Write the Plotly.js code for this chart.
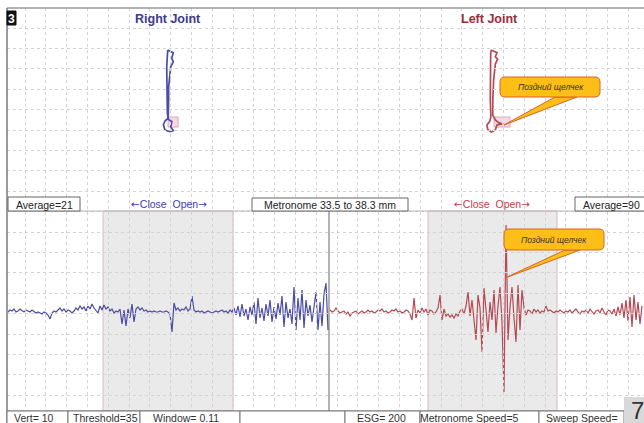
<!DOCTYPE html>
<html>
<head>
<meta charset="utf-8">
<script src="https://cdn.plot.ly/plotly-3.0.1.min.js"></script>
<style>html,body{margin:0;padding:0;background:#fff}#chart{width:644px;height:423px}</style>
</head>
<body>
<div id="chart"></div>
<script>
// ---------- DATA ----------
// Jaw tracking (lateral mm, vertical mm) for each joint
const rightLat  = [-0.14,2.5,1.8,2.5,1.3,1.0,0.3,0.3,0.1,0.1,-1.4,-2.2,-1.4,1.0,2.5,1.3,1.8,0.1,-0.3,-0.5,-0.5,-0.6,-0.5,-0.14];
const rightVert = [0,-1.3,-4.0,-5.6,-8.0,-10.3,-17.5,-23.8,-30.1,-32.5,-33.7,-35.7,-38.1,-38.9,-38.4,-36.5,-34.1,-33.0,-30.1,-23.8,-15.9,-8.0,-1.6,0];
const leftLat   = [2.3,5.0,4.2,5.3,4.2,3.9,3.4,3.0,3.0,4.2,5.8,7.4,5.0,4.2,2.3,0.6,0.2,1.5,2.1,1.8,1.8,1.8,2.0,2.3];
const leftVert  = [0,-1.3,-3.2,-4.4,-6.7,-9.5,-14.3,-23.8,-31.0,-33.3,-34.6,-35.2,-35.7,-38.1,-39.0,-37.8,-35.7,-34.1,-31.8,-23.8,-15.9,-8.0,-1.6,0];
// analysis window marker on the jaw trace [lat0, lat1, vert0, vert1]
const rightWindow = [0, 4.8, -31.9, -36.7];
const leftWindow  = [3.6, 11.2, -31.9, -36.7];

// Vibration signals (amplitude, one value per sample)
const rightSignal = [
 0,2,1,3,0,1,3,1,0,2,
 1,0,2,0,-1,0,-1,-2,0,-1,
 -3,-7,-1,1,0,2,4,1,3,0,
 2,1,-1,1,4,2,6,3,5,1,
 6,3,8,4,2,-1,6,2,7,3,
 5,1,3,-1,1,0,3,-12,2,-14,
 3,-6,8,-10,3,5,2,4,1,2,
 0,1,0,1,0,0,1,0,0,1,
 0,-2,-20,9,2,4,1,3,2,5,
 1,3,16,2,0,1,0,1,-1,0,
 1,0,-1,0,1,0,1,2,0,1,
 -1,2,0,4,-3,6,-5,8,-4,3,
 -8,5,-3,10,-12,14,-6,4,-9,8,
 -4,12,-10,5,-7,9,-3,16,-15,10,
 -6,3,-12,25,-18,14,-8,22,-16,12,
 -4,7,-10,3,20,-18,10,-14,18,29,
 -18];
const leftSignal = [
 2,0,1,4,1,-1,0,1,-2,0,
 -4,-1,0,1,-2,0,1,-1,0,2,
 0,1,-1,0,2,1,3,0,1,-1,
 0,2,1,3,0,1,-1,0,2,1,
 -2,-8,14,-6,2,-1,4,0,3,-3,
 2,1,-2,0,4,17,-8,3,-4,-2,
 -5,-3,-6,-2,-4,1,3,-2,6,20,
 -4,12,-6,-28,17,4,-40,24,2,-20,
 10,-8,22,-21,6,25,-10,-80,87,-28,
 5,25,-6,-30,27,-18,22,4,-3,2,
 1,-2,3,0,2,-1,1,0,6,1,
 2,0,-1,1,0,2,0,-1,1,0,
 2,-1,1,3,0,-2,1,0,2,-1,
 3,0,-2,1,2,-1,4,0,-3,2,
 1,-2,3,-4,5,-3,9,-6,12,-9,
 15,-15,17,-8,10,-12,6];

// Texts
const jointTitles = ["Right Joint", "Left Joint"];
const directionLabel = "<span style='font-family:DejaVu Sans'>\u2190</span>Close  Open<span style='font-family:DejaVu Sans'>\u2192</span>";
const infoTop = ["Average=21", "Metronome 33.5 to 38.3 mm", "Average=90"];
const infoBottom = ["Vert= 10", "Threshold=35", "Window= 0.11", "", "ESG= 200", "Metronome Speed=5", "Sweep Speed="];
const calloutText = "Поздний щелчек";
const panelNumber = "3";
const pageNumber = "7";

// ---------- LAYOUT HELPERS ----------
const W = 644, H = 423;
const X = p => p / W;
const Y = p => 1 - p / H;
const FONT = "Liberation Sans, Arial, sans-serif";

const rightIdx = rightSignal.map((_, i) => i);
const leftIdx = leftSignal.map((_, i) => i + rightSignal.length);

const BLUE = "#4c4ca6", RED = "#b44a55";

const traces = [
  {x:[null], y:[null], xaxis:"x5", yaxis:"y5", mode:"lines", hoverinfo:"skip", showlegend:false},
  {x: rightLat, y: rightVert, xaxis:"x2", yaxis:"y2", mode:"lines", line:{color:BLUE, width:1.7}, showlegend:false},
  {x: leftLat, y: leftVert, xaxis:"x3", yaxis:"y3", mode:"lines", line:{color:RED, width:1.7}, showlegend:false},
  {x: rightIdx, y: rightSignal, xaxis:"x", yaxis:"y", mode:"lines", line:{color:BLUE, width:1.2}, showlegend:false},
  {x: leftIdx, y: leftSignal, xaxis:"x", yaxis:"y", mode:"lines", line:{color:RED, width:1.2}, showlegend:false}
];

const shapes = [];
function rectPx(x0,y0,x1,y1,fill,line,lw,layer){
  shapes.push({type:"rect", xref:"paper", yref:"paper", x0:X(x0), x1:X(x1), y0:Y(y1), y1:Y(y0),
    fillcolor:fill, line:{color:line, width:lw}, layer:layer||"above"});
}
function linePx(x0,y0,x1,y1,color,lw,layer){
  shapes.push({type:"line", xref:"paper", yref:"paper", x0:X(x0), x1:X(x1), y0:Y(y0), y1:Y(y1),
    line:{color:color, width:lw}, layer:layer||"above"});
}
function pathPx(pts, fill, line, lw){
  const d = pts.map((p,i)=>(p[0]) + X(p[1]).toFixed(5) + "," + Y(p[2]).toFixed(5)).join(" ") + " Z";
  shapes.push({type:"path", xref:"paper", yref:"paper", path:d, fillcolor:fill, line:{color:line, width:lw}, layer:"above"});
}
function roundRect(x0,y0,x1,y1,r,fill,line){
  const k = (a,b)=>X(a).toFixed(5)+","+Y(b).toFixed(5);
  const d = "M"+k(x0+r,y0)+" L"+k(x1-r,y0)+" Q"+k(x1,y0)+" "+k(x1,y0+r)+
    " L"+k(x1,y1-r)+" Q"+k(x1,y1)+" "+k(x1-r,y1)+
    " L"+k(x0+r,y1)+" Q"+k(x0,y1)+" "+k(x0,y1-r)+
    " L"+k(x0,y0+r)+" Q"+k(x0,y0)+" "+k(x0+r,y0)+" Z";
  shapes.push({type:"path", xref:"paper", yref:"paper", path:d, fillcolor:fill, line:{color:line, width:1}, layer:"above"});
}

// shaded analysis windows in signal panel
rectPx(103,211,233,411,"#eaeaea","#dfb6c6",1,"below");
rectPx(428,211,557,411,"#eaeaea","#dfb6c6",1,"below");
// window markers on jaw traces
shapes.push({type:"rect", xref:"x2", yref:"y2", x0:rightWindow[0], x1:rightWindow[1], y0:rightWindow[2], y1:rightWindow[3],
  fillcolor:"#f3d9e1", line:{color:"#e2aabb", width:1}, layer:"below"});
shapes.push({type:"rect", xref:"x3", yref:"y3", x0:leftWindow[0], x1:leftWindow[1], y0:leftWindow[2], y1:leftWindow[3],
  fillcolor:"#f3d9e1", line:{color:"#e2aabb", width:1}, layer:"below"});
// frame
linePx(7,8,644,8,"#9a9a9a",1.5);
linePx(7,8,7,423,"#7a7a7a",1.5);
linePx(7,211,644,211,"#b5b5b5",1);
linePx(7,411,644,411,"#888888",1);
linePx(329,211,329,411,"#666666",1);
// top info boxes
rectPx(8,197,80,211,"#ffffff","#666666",1);
rectPx(252,198,408,211,"#ffffff","#666666",1);
rectPx(575,197,646,211,"#ffffff","#666666",1);
// bottom info boxes
const sepX = [7,68,140,240,345,420,539,624];
for (let i=0;i<sepX.length-1;i++) rectPx(sepX[i],411,sepX[i+1],424,"#ffffff","#777777",1);
rectPx(624,397,645,424,"#d9d9d9","rgba(0,0,0,0)",0);
// panel number box
rectPx(7,11,16,25,"#111111","#111111",1);
// callouts
const CALL_FILL = "#fdbf17", CALL_LINE = "#d8612c";
pathPx([["M",555,97],["L",504,125],["L",577,97]], CALL_FILL, CALL_LINE, 1);
roundRect(500,77,600,97,5,CALL_FILL,CALL_LINE);
pathPx([["M",565,250],["L",505,278],["L",580,250]], CALL_FILL, CALL_LINE, 1);
roundRect(504,229,604,250,5,CALL_FILL,CALL_LINE);

const ann = [];
function txt(x,y,t,size,color,extra){
  ann.push(Object.assign({xref:"paper", yref:"paper", x:X(x), y:Y(y), text:t, showarrow:false,
    xanchor:"center", yanchor:"middle", font:{family:FONT, size:size, color:color}}, extra||{}));
}
txt(11.5,18.5,"<b>"+panelNumber+"</b>",12,"#ffffff");
txt(168,19,"<b>"+jointTitles[0]+"</b>",12.5,"#3b3b8f");
txt(489,19,"<b>"+jointTitles[1]+"</b>",12.5,"#9e2b3a");
txt(44,204.5,infoTop[0],10.5,"#222");
txt(169,204,directionLabel,10.5,"#3d3db0");
txt(330,204.5,infoTop[1],10.5,"#222");
txt(492,204,directionLabel,10.5,"#c83a48");
txt(611,204.5,infoTop[2],10.5,"#222");
const botCenters = [34,105,186,292,381,469,582];
infoBottom.forEach((t,i)=>{ if(t) txt(botCenters[i],418,t,10.5,"#333"); });
txt(637,410,pageNumber,24,"#333");
txt(551,87,"<i>"+calloutText+"</i>",8.5,"#333");
txt(554,240,"<i>"+calloutText+"</i>",8.5,"#333");

const hidden = {visible:false, showgrid:false, zeroline:false, fixedrange:true};
const GRID = "#d3d3d3";
const layout = {
  width:W, height:H, margin:{l:0,r:0,t:0,b:0},
  paper_bgcolor:"#ffffff", plot_bgcolor:"rgba(0,0,0,0)",
  showlegend:false,
  xaxis: Object.assign({}, hidden, {domain:[X(7),1], range:[-0.5, 318], anchor:"y"}),
  yaxis: Object.assign({}, hidden, {domain:[Y(411),Y(211)], range:[-99,101], anchor:"x"}),
  xaxis2: Object.assign({}, hidden, {domain:[X(7),X(329)], range:[-76.67,76.67], anchor:"y2"}),
  yaxis2: Object.assign({}, hidden, {domain:[Y(197),Y(8)], range:[-70,20], anchor:"x2"}),
  xaxis3: Object.assign({}, hidden, {domain:[X(329),1], range:[-75,75], anchor:"y3"}),
  yaxis3: Object.assign({}, hidden, {domain:[Y(197),Y(8)], range:[-70,20], anchor:"x3"}),
  xaxis5: {domain:[X(7),1], range:[7,644], anchor:"y5", showgrid:true, gridcolor:GRID, griddash:"dot", gridwidth:1,
           tick0:25, dtick:20.8, showticklabels:false, ticks:"", zeroline:false, showline:false, fixedrange:true},
  yaxis5: {domain:[Y(411),Y(8)], range:[411,8], anchor:"x5", showgrid:true, gridcolor:GRID, griddash:"dot", gridwidth:1,
           tick0:28, dtick:20.4, showticklabels:false, ticks:"", zeroline:false, showline:false, fixedrange:true},
  shapes: shapes,
  annotations: ann
};
Plotly.newPlot("chart", traces, layout, {staticPlot:true, displayModeBar:false});
</script>
</body>
</html>
